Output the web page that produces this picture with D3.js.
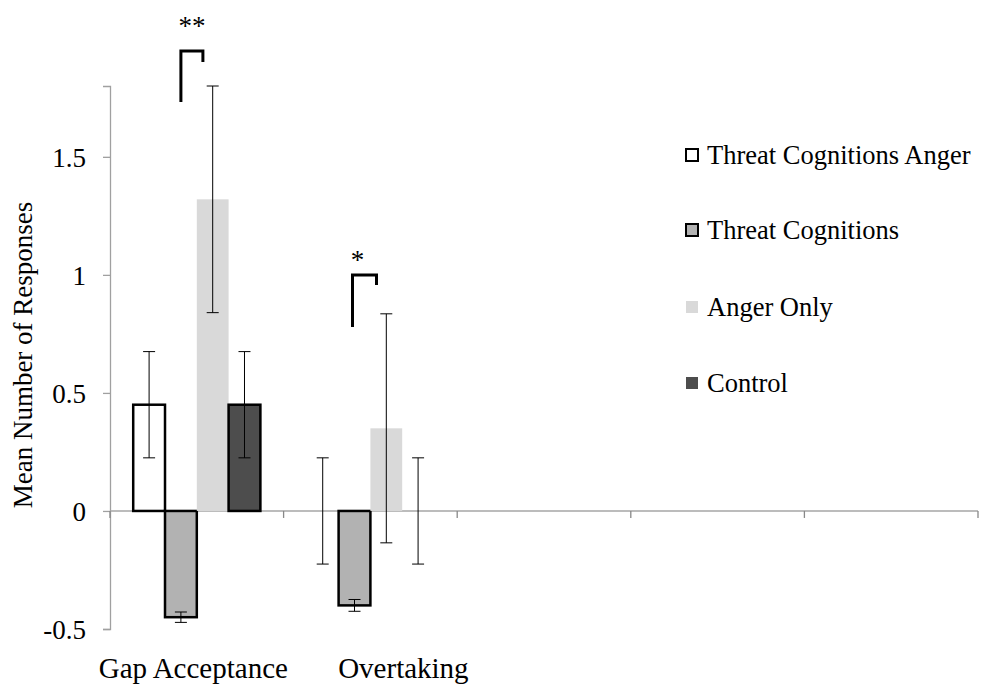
<!DOCTYPE html>
<html>
<head>
<meta charset="utf-8">
<script src="https://cdn.jsdelivr.net/npm/d3@7"></script>
<style>
  html, body { margin: 0; padding: 0; background: #fff; }
  svg { display: block; }
  svg text { font-family: "Liberation Serif", "Times New Roman", serif; fill: #000; }
</style>
</head>
<body>
<svg id="chart" width="981" height="686"></svg>
<script>
// Category slots along the x axis (only the first two hold data)
const categories = ["Gap Acceptance", "Overtaking", "", "", ""];
const seriesNames = ["Threat Cognitions Anger", "Threat Cognitions", "Anger Only", "Control"];
// Means per series, one value per labelled category
const threatAnger = [0.45, 0.0];
const threatOnly  = [-0.45, -0.40];
const angerOnly   = [1.32, 0.35];
const control     = [0.45, 0.0];
// Error half-widths per series
const errThreatAnger = [0.225, 0.225];
const errThreatOnly  = [0.022, 0.025];
const errAngerOnly   = [0.48, 0.485];
const errControl     = [0.225, 0.225];
const yTicks = [-0.5, 0, 0.5, 1, 1.5];
const yTickLabels = ["-0.5", "0", "0.5", "1", "1.5"];
// Significance markers between Threat Cognitions and Anger Only
const sigCats = ["Gap Acceptance", "Overtaking"];
const sigLabels = ["**", "*"];

const seriesValues = [threatAnger, threatOnly, angerOnly, control];
const seriesErrors = [errThreatAnger, errThreatOnly, errAngerOnly, errControl];
const fills = ["#ffffff", "#b2b2b2", "#d9d9d9", "#4d4d4d"];
const strokes = ["#000", "#000", "none", "#000"];

const svg = d3.select("#chart");

const x0 = d3.scaleBand().domain(d3.range(categories.length)).range([110, 978]);
const x1 = d3.scaleBand().domain(d3.range(seriesNames.length)).range([0, x0.bandwidth()]).paddingOuter(0.73);
const y = d3.scaleLinear().domain([-0.5, 1.8]).range([629, 86]);

// Y axis
const yAxis = d3.axisLeft(y).tickValues(yTicks).tickFormat((d, i) => yTickLabels[i]).tickSize(7).tickPadding(17);
const gy = svg.append("g").attr("transform", "translate(110,0)").call(yAxis).attr("font-family", null);
gy.select(".domain").attr("stroke", "#a0a0a0").attr("stroke-width", 1.3);
gy.selectAll(".tick line").attr("stroke", "#a0a0a0").attr("stroke-width", 1.3);
gy.selectAll(".tick text").style("font-size", "27px").attr("dy", "0.34em");

// X axis along the zero line with category separators
const gx = svg.append("g").attr("transform", `translate(0,${y(0)})`);
gx.append("line").attr("x1", 110).attr("x2", 978).attr("y1", 0).attr("y2", 0)
  .attr("stroke", "#a6a6a6").attr("stroke-width", 1.5);
const tickPos = d3.range(categories.length + 1).map(i => i < categories.length ? x0(i) : x0.range()[1]);
gx.selectAll("line.tk").data(tickPos).join("line").attr("class", "tk")
  .attr("x1", d => d).attr("x2", d => d).attr("y1", 0).attr("y2", 7)
  .attr("stroke", "#888").attr("stroke-width", 1.3);

// Category labels under the plot
const catLabelShift = [-3.5, 33];
svg.selectAll("text.cat").data(categories.filter(c => c)).join("text").attr("class", "cat")
  .attr("x", (d, i) => x0(i) + x0.bandwidth() / 2 + catLabelShift[i])
  .attr("y", 678)
  .attr("text-anchor", "middle")
  .style("font-size", "29px")
  .text(d => d);

// Bars
const barData = [];
seriesValues.forEach((vals, s) => {
  vals.forEach((v, c) => barData.push({ s, c, v, e: seriesErrors[s][c] }));
});

svg.append("g").selectAll("rect").data(barData).join("rect")
  .attr("x", d => x0(d.c) + x1(d.s))
  .attr("width", x1.bandwidth())
  .attr("y", d => y(Math.max(0, d.v)))
  .attr("height", d => Math.abs(y(d.v) - y(0)))
  .attr("fill", d => fills[d.s])
  .attr("stroke", d => (d.v === 0 ? "none" : strokes[d.s]))
  .attr("stroke-width", 2.5);

// Error bars
const eb = svg.append("g").attr("stroke", "#000").attr("stroke-width", 1);
barData.forEach(d => {
  const cx = x0(d.c) + x1(d.s) + x1.bandwidth() / 2;
  const top = y(d.v + d.e), bot = y(d.v - d.e);
  eb.append("line").attr("x1", cx).attr("x2", cx).attr("y1", top).attr("y2", bot);
  eb.append("line").attr("x1", cx - 6).attr("x2", cx + 6).attr("y1", top).attr("y2", top);
  eb.append("line").attr("x1", cx - 6).attr("x2", cx + 6).attr("y1", bot).attr("y2", bot);
});

// Significance brackets
const bracketTop = [51, 275];
const bracketShift = [0, -2];
const bracketWidth = [22, 24];
const bracketLeftLen = [51, 52];
const bracketRightLen = [11, 10];
const starGap = [16, 6];
const starShift = [0, -7];
sigCats.forEach((cat, i) => {
  const c = categories.indexOf(cat);
  const xl = x0(c) + x1(1) + x1.bandwidth() / 2 + bracketShift[i];
  const xr = xl + bracketWidth[i];
  const yt = bracketTop[i];
  svg.append("path")
    .attr("d", `M${xl},${yt + bracketLeftLen[i]} V${yt} H${xr} V${yt + bracketRightLen[i]}`)
    .attr("fill", "none").attr("stroke", "#000").attr("stroke-width", 3);
  svg.append("text")
    .attr("x", (xl + xr) / 2 + starShift[i])
    .attr("y", yt - starGap[i])
    .attr("text-anchor", "middle")
    .style("font-size", "27px")
    .text(sigLabels[i]);
});

// Y axis title
svg.append("text")
  .attr("transform", "translate(32,355) rotate(-90)")
  .attr("text-anchor", "middle")
  .style("font-size", "27px")
  .text("Mean Number of Responses");

// Legend
const legendY = [155, 230, 307, 383];
const lg = svg.append("g");
seriesNames.forEach((name, i) => {
  const row = lg.append("g").attr("transform", `translate(685,${legendY[i]})`);
  row.append("rect").attr("x", 1).attr("y", -6).attr("width", 12).attr("height", 12)
    .attr("fill", fills[i])
    .attr("stroke", i < 2 ? "#000" : "none")
    .attr("stroke-width", 2);
  row.append("text").attr("x", 22).attr("y", 8.5)
    .style("font-size", "26.5px")
    .text(name);
});
</script>
</body>
</html>
